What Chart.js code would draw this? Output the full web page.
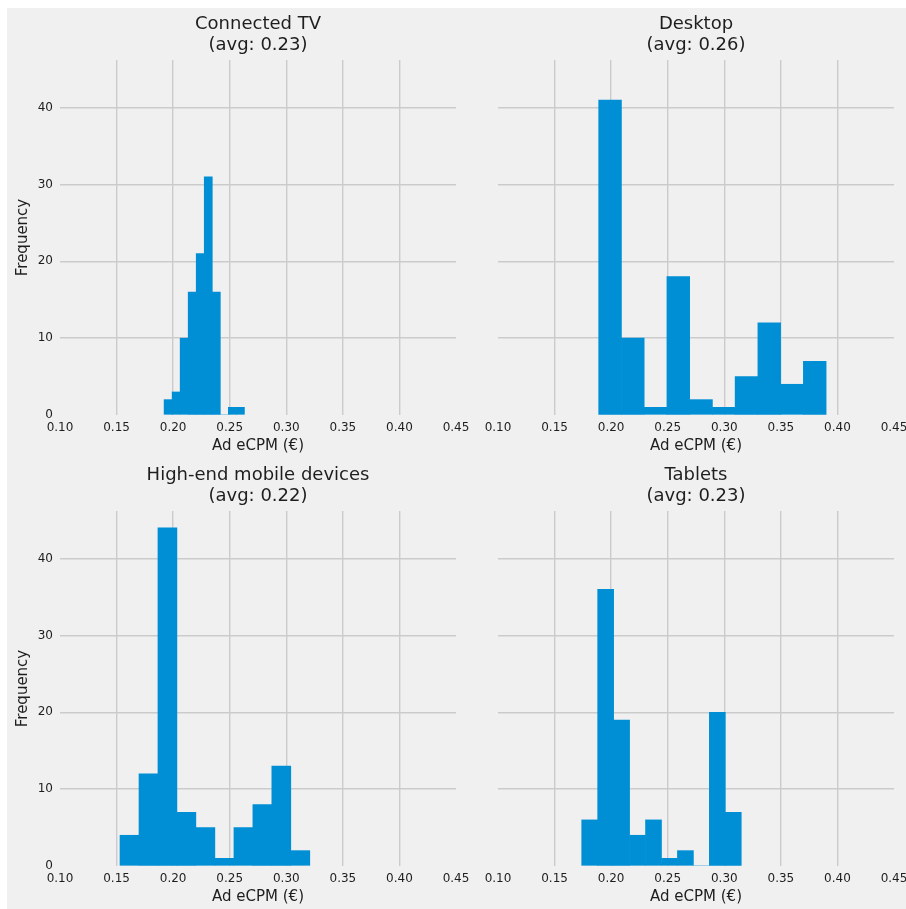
<!DOCTYPE html>
<html><head><meta charset="utf-8">
<script src="https://cdn.jsdelivr.net/npm/chart.js@4.4.1/dist/chart.umd.min.js"></script>
<style>
html,body{margin:0;padding:0;background:#fff;overflow:hidden;width:906px;height:909px;position:relative}
#bg{position:absolute;left:7px;top:8px;right:0;bottom:0;background:#f0f0f0}
canvas{position:absolute}
</style></head><body>
<div id="bg"></div>
<canvas id="c0"></canvas>
<canvas id="c1"></canvas>
<canvas id="c2"></canvas>
<canvas id="c3"></canvas>
<script>
// ---- data ----
const categories = ['Connected TV', 'Desktop', 'High-end mobile devices', 'Tablets'];
const averages = ['0.23', '0.26', '0.22', '0.23'];

const ctvEdges = [0.192, 0.1991, 0.2062, 0.2133, 0.2204, 0.2275, 0.2346, 0.2417, 0.2488, 0.2559, 0.263];
const ctvCounts = [2, 3, 10, 16, 21, 31, 16, 0, 1, 1];

const desktopEdges = [0.189, 0.2091, 0.2292, 0.2493, 0.2694, 0.2895, 0.3096, 0.3297, 0.3498, 0.3699, 0.390];
const desktopCounts = [41, 10, 1, 18, 2, 1, 5, 12, 4, 7];

const mobileEdges = [0.153, 0.1698, 0.1866, 0.2033, 0.2201, 0.2369, 0.2537, 0.2705, 0.2872, 0.304, 0.3208];
const mobileCounts = [4, 12, 44, 7, 5, 1, 5, 8, 13, 2];

const tabletEdges = [0.174, 0.1881, 0.2022, 0.2163, 0.2304, 0.2445, 0.2586, 0.2727, 0.2868, 0.3009, 0.315];
const tabletCounts = [6, 36, 19, 4, 6, 1, 2, 0, 20, 7];

const xTickValues = [0.10, 0.15, 0.20, 0.25, 0.30, 0.35, 0.40, 0.45];
const yTickValues = [0, 10, 20, 30, 40];
const xMin = 0.10, xMax = 0.45, yMin = 0, yMax = 46.2;
const xLabel = 'Ad eCPM (€)';
const yLabel = 'Frequency';

const seriesEdges = [ctvEdges, desktopEdges, mobileEdges, tabletEdges];
const seriesCounts = [ctvCounts, desktopCounts, mobileCounts, tabletCounts];

// ---- layout ----
const PLOT_W = 396, PLOT_H = 355, HT = 52, HX = 42;
const panels = [
  {left: 7,   top: 8,   wy: 53, wr: 20, showY: true},
  {left: 476, top: 8,   wy: 22, wr: 12, showY: false},
  {left: 7,   top: 459, wy: 53, wr: 20, showY: true},
  {left: 476, top: 459, wy: 22, wr: 12, showY: false}
];

const FONT = 'DejaVu Sans';
const TEXT = '#1e1e1e';
const GRID = '#cbcbcb';
const BAR = '#008fd5';

function gridColor(edgeVals) {
  return (c) => (c.tick && edgeVals.includes(c.tick.value)) ? 'rgba(0,0,0,0)' : GRID;
}

panels.forEach((p, i) => {
  const cv = document.getElementById('c' + i);
  const W = p.wy + PLOT_W + p.wr, H = HT + PLOT_H + HX;
  cv.width = W; cv.height = H;
  cv.style.left = p.left + 'px'; cv.style.top = p.top + 'px';
  cv.style.width = W + 'px'; cv.style.height = H + 'px';
  const edges = seriesEdges[i], counts = seriesCounts[i];
  const pts = counts.map((v, k) => ({x: (edges[k] + edges[k + 1]) / 2, y: v}));
  new Chart(cv, {
    type: 'bar',
    data: {datasets: [{data: pts, backgroundColor: BAR, borderWidth: 0,
      barPercentage: 1, categoryPercentage: 1}]},
    options: {
      responsive: false, animation: false, devicePixelRatio: 1,
      layout: {padding: {left: 0, top: 0, right: p.wr, bottom: 0}},
      plugins: {
        legend: {display: false}, tooltip: {enabled: false},
        title: {display: true, fullSize: false, text: [categories[i], '(avg: ' + averages[i] + ')'],
          color: TEXT, font: {family: FONT, size: 18, weight: 'normal', lineHeight: 21 / 18},
          padding: {top: 6, bottom: 4}}
      },
      scales: {
        x: {
          type: 'linear', min: xMin, max: xMax, offset: false,
          grid: {offset: false, drawTicks: false, color: gridColor([xMin, xMax]), lineWidth: 1.4},
          border: {display: false},
          afterBuildTicks: (s) => { s.ticks = xTickValues.map(v => ({value: v})); },
          afterFit: (s) => { s.height = HX; s.paddingLeft = 0; s.paddingRight = 0; },
          ticks: {color: TEXT, padding: 6, maxRotation: 0, autoSkip: false,
            font: {family: FONT, size: 12}, callback: (v) => Number(v).toFixed(2)},
          title: {display: true, text: xLabel, color: TEXT,
            font: {family: FONT, size: 15}, padding: {top: 0, bottom: 2.2}}
        },
        y: {
          type: 'linear', min: yMin, max: yMax,
          grid: {drawTicks: false, color: gridColor([yMin]), lineWidth: 1.4},
          border: {display: false},
          afterBuildTicks: (s) => { s.ticks = yTickValues.map(v => ({value: v})); },
          afterFit: (s) => { s.width = p.wy; s.paddingTop = 0; s.paddingBottom = 0; },
          ticks: {display: p.showY, color: TEXT, padding: 7,
            font: {family: FONT, size: 12}, callback: (v) => String(v)},
          title: {display: p.showY, text: yLabel, color: TEXT,
            font: {family: FONT, size: 15}, padding: {top: 7.3, bottom: 0}}
        }
      }
    }
  });
});
</script>
</body></html>
